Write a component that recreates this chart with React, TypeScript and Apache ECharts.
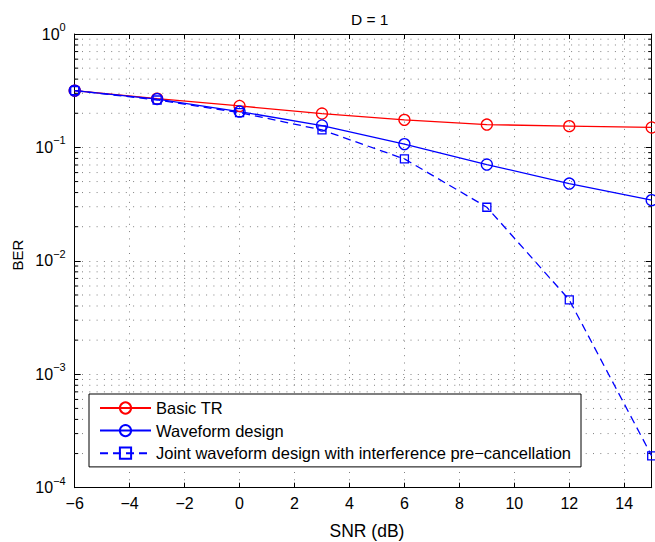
import React, { useEffect, useRef } from "react";
import * as echarts from "echarts";

const snr = [-6, -3, 0, 3, 6, 9, 12, 15];
const basicTR = [0.317, 0.269, 0.232, 0.199, 0.175, 0.159, 0.154, 0.15];
const waveform = [0.317, 0.267, 0.207, 0.156, 0.107, 0.0706, 0.048, 0.0343];
const joint = [0.317, 0.262, 0.203, 0.1426, 0.0792, 0.0297, 0.00453, 0.000191];

const seriesNames = [
  "Basic TR",
  "Waveform design",
  "Joint waveform design with interference pre\u2212cancellation",
];

const minorMantissas = [2, 3, 4, 5, 6, 7, 8, 9];
const decades = [1e-4, 1e-3, 1e-2, 1e-1];

const FONT = "'Liberation Sans', Arial, Helvetica, sans-serif";

export default function App() {
  const ref = useRef<HTMLDivElement>(null);

  useEffect(() => {
    document.body.style.margin = "0";
    const chart = echarts.init(ref.current!, null, { renderer: "svg" });

    const minorValues: number[] = [];
    decades.forEach((d) => minorMantissas.forEach((m) => minorValues.push(m * d)));

    const GRID_COLOR = "#808080";
    const GRID_DASH = [1, 6.3];
    const gridDash = { color: GRID_COLOR, type: GRID_DASH as any, width: 1 };

    const option: any = {
      animation: false,
      backgroundColor: "#fff",
      textStyle: { fontFamily: FONT },
      title: {
        text: "D = 1",
        left: 346,
        top: 6,
        textStyle: { fontSize: 15.5, fontWeight: "normal", color: "#000", fontFamily: FONT },
      },
      graphic: [
        {
          type: "text",
          x: 17.5,
          y: 255,
          rotation: Math.PI / 2,
          style: {
            text: "BER",
            fontSize: 15,
            fontFamily: FONT,
            fill: "#000",
            textAlign: "center",
            textVerticalAlign: "middle",
          },
        },
        {
          type: "text",
          x: 367,
          y: 531,
          style: {
            text: "SNR (dB)",
            fontSize: 17.5,
            fontFamily: FONT,
            fill: "#000",
            textAlign: "center",
            textVerticalAlign: "middle",
          },
        },
      ],
      grid: { left: 74.7, right: 3.3, top: 34, bottom: 54.3, containLabel: false },
      legend: {
        data: seriesNames,
        orient: "vertical",
        left: 89,
        top: 394,
        padding: [5.5, 10, 5.2, 10],
        itemGap: 5.6,
        itemWidth: 51,
        itemHeight: 14,
        backgroundColor: "#fff",
        borderColor: "#000",
        borderWidth: 1,
        borderRadius: 0,
        textStyle: { fontSize: 16.5, color: "#000", fontFamily: FONT },
      },
      xAxis: [
        {
          type: "value",
          min: -6,
          max: 15,
          interval: 2,
          axisLine: { show: true, onZero: false, lineStyle: { color: "#000", width: 1 } },
          axisTick: { show: true, inside: true, length: 5, lineStyle: { color: "#000" } },
          axisLabel: {
            show: true,
            showMaxLabel: false,
            margin: 8,
            fontSize: 16,
            color: "#000",
            fontFamily: FONT,
            formatter: (v: number) => (v < 0 ? "\u2212" + -v : String(v)),
          },
          splitLine: { show: true, lineStyle: gridDash },
        },
        {
          type: "value",
          position: "top",
          min: -6,
          max: 15,
          interval: 2,
          axisLine: { show: true, onZero: false, lineStyle: { color: "#000", width: 1 } },
          axisTick: { show: true, inside: true, length: 5, lineStyle: { color: "#000" } },
          axisLabel: { show: false },
          splitLine: { show: false },
        },
      ],
      yAxis: [
        {
          type: "log",
          logBase: 10,
          min: 1e-4,
          max: 1,
          axisLine: { show: true, onZero: false, lineStyle: { color: "#000", width: 1 } },
          axisTick: { show: true, inside: true, length: 6, lineStyle: { color: "#000" } },
          axisLabel: {
            margin: 9,
            color: "#000",
            fontFamily: FONT,
            formatter: (v: number) => {
              const e = Math.round(Math.log10(v));
              const es = e < 0 ? "\u2212" + -e : String(e);
              return "{b|10}{s|" + es + "}";
            },
            rich: {
              b: { fontSize: 16, color: "#000", fontFamily: FONT },
              s: { fontSize: 11, color: "#000", fontFamily: FONT, padding: [0, 0, 14, 0] },
            },
          },
          splitLine: { show: true, lineStyle: gridDash },
        },
        {
          type: "log",
          logBase: 10,
          min: 1e-4,
          max: 1,
          position: "right",
          axisLine: { show: true, onZero: false, lineStyle: { color: "#000", width: 1 } },
          axisTick: { show: true, inside: true, length: 6, lineStyle: { color: "#000" } },
          axisLabel: { show: false },
          splitLine: { show: false },
        },
      ],
      series: [
        {
          type: "custom",
          name: "minorGrid",
          silent: true,
          z: 1,
          xAxisIndex: 0,
          yAxisIndex: 0,
          data: minorValues.map((v) => [-6, v]),
          renderItem: (params: any, api: any) => {
            const v = api.value(1);
            const pt = api.coord([-6, v]);
            const cs = params.coordSys;
            const y = pt[1];
            return {
              type: "group",
              children: [
                {
                  type: "line",
                  shape: { x1: cs.x, y1: y, x2: cs.x + cs.width, y2: y },
                  style: { stroke: GRID_COLOR, lineDash: GRID_DASH, lineWidth: 1 },
                },
                {
                  type: "line",
                  shape: { x1: cs.x, y1: y, x2: cs.x + 3.5, y2: y },
                  style: { stroke: "#000", lineWidth: 1 },
                },
                {
                  type: "line",
                  shape: { x1: cs.x + cs.width - 3.5, y1: y, x2: cs.x + cs.width, y2: y },
                  style: { stroke: "#000", lineWidth: 1 },
                },
              ],
            };
          },
        },
        {
          name: seriesNames[0],
          type: "line",
          z: 3,
          data: snr.map((x, i) => [x, basicTR[i]]),
          symbol: "circle",
          symbolSize: 11,
          color: "#ff0000",
          lineStyle: { color: "#ff0000", width: 1.3 },
          itemStyle: { color: "rgba(0,0,0,0)", borderColor: "#ff0000", borderWidth: 1.3 },
        },
        {
          name: seriesNames[1],
          type: "line",
          z: 3,
          data: snr.map((x, i) => [x, waveform[i]]),
          symbol: "circle",
          symbolSize: 11,
          color: "#0000ff",
          lineStyle: { color: "#0000ff", width: 1.3 },
          itemStyle: { color: "rgba(0,0,0,0)", borderColor: "#0000ff", borderWidth: 1.3 },
        },
        {
          name: seriesNames[2],
          type: "line",
          z: 3,
          data: snr.map((x, i) => [x, joint[i]]),
          symbol: "rect",
          symbolSize: 8,
          color: "#0000ff",
          lineStyle: { color: "#0000ff", width: 1.3, type: [8, 5] },
          itemStyle: { color: "rgba(0,0,0,0)", borderColor: "#0000ff", borderWidth: 1.3 },
        },
      ],
    };

    chart.setOption(option);
    return () => chart.dispose();
  }, []);

  return (
    <div
      ref={ref}
      style={{ position: "fixed", left: 0, top: 0, width: 655, height: 542 }}
    />
  );
}
